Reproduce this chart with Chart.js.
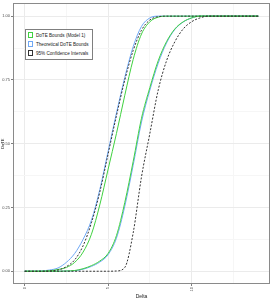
<!DOCTYPE html>
<html><head><meta charset="utf-8">
<script src="https://cdn.jsdelivr.net/npm/chart.js@4/dist/chart.umd.min.js"></script>
<style>
html,body{margin:0;padding:0;background:#fff;}
#wrap{position:relative;width:273px;height:300px;}
#legend{position:absolute;left:25px;top:29px;width:66px;height:29px;border:1px solid #7f7f7f;background:#fff;font-family:"Liberation Sans",Arial,sans-serif;font-size:4.6px;color:#1a1a1a;}
.row{position:absolute;left:2px;height:9px;line-height:9px;white-space:nowrap;}
.key{position:absolute;left:0;top:1px;width:5px;height:6px;box-sizing:border-box;}
.lbl{position:absolute;left:8px;top:0;}
</style></head>
<body>
<div id="wrap">
<canvas id="c" width="273" height="300"></canvas>
<div id="legend">
 <div class="row" style="top:0.5px"><span class="key" style="border:1px solid #3fd13f"></span><span class="lbl">DoTE Bounds (Model 1)</span></div>
 <div class="row" style="top:9.5px"><span class="key" style="border:1px solid #6fa8f5"></span><span class="lbl">Theoretical DoTE Bounds</span></div>
 <div class="row" style="top:18.5px"><span class="key" style="border:1px dashed #333"></span><span class="lbl">95% Confidence Intervals</span></div>
</div>
</div>
<script>
const xValues = [0,0.5,1,1.5,2,2.5,3,3.5,4,4.5,5,5.5,6,6.5,7,7.5,8,8.5,9,9.5,10,10.5,11,11.5,12,12.5,13,13.5,14];
const modelUpper = [0,0,0,0.002,0.007,0.015,0.035,0.075,0.145,0.26,0.4,0.54,0.69,0.83,0.93,0.978,0.996,1,1,1,1,1,1,1,1,1,1,1,1];
const modelLower = [0,0,0,0,0,0.001,0.003,0.01,0.022,0.04,0.07,0.14,0.27,0.43,0.6,0.72,0.825,0.9,0.95,0.978,0.993,1,1,1,1,1,1,1,1];
const theoryUpper = [0,0,0.001,0.005,0.013,0.035,0.07,0.125,0.2,0.32,0.47,0.62,0.76,0.88,0.96,0.993,1,1,1,1,1,1,1,1,1,1,1,1,1];
const theoryLower = [0,0,0,0,0,0.001,0.002,0.008,0.019,0.036,0.065,0.13,0.255,0.415,0.585,0.71,0.815,0.895,0.948,0.977,0.993,1,1,1,1,1,1,1,1];
const ciUpper = [0,0,0,0.001,0.005,0.018,0.045,0.1,0.19,0.31,0.46,0.61,0.75,0.865,0.945,0.985,0.998,1,1,1,1,1,1,1,1,1,1,1,1];
const ciLower = [0,0,0,0,0,0,0,0,0,0,0,0.001,0.015,0.15,0.37,0.54,0.71,0.825,0.9,0.95,0.978,0.993,1,1,1,1,1,1,1];
const xTicks = [0,2.5,5,7.5,10,12.5];
const yTicks = [0,0.125,0.25,0.375,0.5,0.625,0.75,0.875,1];
const xLabels = {0:"0",5:"5",10:"10"};
const yLabels = {0:"0.00",0.25:"0.25",0.5:"0.50",0.75:"0.75",1:"1.00"};

const GREEN = '#3fd13f', BLUE = '#6fa8f5', DASH = '#333333';
const pts = arr => arr.map((v,i)=>({x:xValues[i], y:v}));
function ds(data, color, dashed, order){
  return {data: pts(data), borderColor: color, borderWidth: 1, pointRadius: 0,
    borderDash: dashed ? [2,1.6] : [], cubicInterpolationMode: 'monotone', fill:false, order: order};
}
const borderPlugin = {
  id:'panelBorder',
  afterDraw(chart){
    const a = chart.chartArea, ctx = chart.ctx;
    ctx.save(); ctx.strokeStyle='#8a8a8a'; ctx.lineWidth=1;
    ctx.strokeRect(Math.round(a.left)+0.5, Math.round(a.top)+0.5, Math.round(a.right-a.left)-1, Math.round(a.bottom-a.top)-1);
    ctx.restore();
  }
};
const gridColor = (labels) => (c) => (c.tick && labels[c.tick.value] !== undefined) ? '#ebebeb' : '#f6f6f6';
new Chart(document.getElementById('c'), {
  type:'line',
  data:{datasets:[
    ds(ciUpper, DASH, true, 1), ds(ciLower, DASH, true, 1),
    ds(modelUpper, GREEN, false, 2), ds(modelLower, GREEN, false, 2),
    ds(theoryUpper, BLUE, false, 3), ds(theoryLower, BLUE, false, 3)
  ]},
  options:{
    responsive:false, animation:false, devicePixelRatio:1,
    layout:{padding:{top:2,right:3,left:0,bottom:0}},
    plugins:{legend:{display:false}, tooltip:{enabled:false}},
    scales:{
      x:{type:'linear', min:-0.7, max:14.7,
        afterBuildTicks(s){ s.ticks = xTicks.map(v=>({value:v})); },
        afterFit(s){ s.height = 16; },
        grid:{color:gridColor(xLabels), tickLength:2, tickColor:(c)=> (c.tick && xLabels[c.tick.value]!==undefined)?'#7f7f7f':'rgba(0,0,0,0)'},
        border:{display:false},
        ticks:{autoSkip:false, maxRotation:90, minRotation:90, padding:1, color:'#4d4d4d',
          font:{family:'Liberation Sans', size:4}, callback:(v)=> xLabels[v] !== undefined ? xLabels[v] : ''},
        title:{display:true, text:'Delta', color:'#1a1a1a', font:{family:'Liberation Sans', size:5}, padding:{top:0,bottom:0}}
      },
      y:{type:'linear', min:-0.05, max:1.05,
        afterBuildTicks(s){ s.ticks = yTicks.map(v=>({value:v})); },
        afterFit(s){ s.width = 13; },
        grid:{color:gridColor(yLabels), tickLength:2, tickColor:(c)=> (c.tick && yLabels[c.tick.value]!==undefined)?'#7f7f7f':'rgba(0,0,0,0)'},
        border:{display:false},
        ticks:{autoSkip:false, padding:1, color:'#4d4d4d',
          font:{family:'Liberation Sans', size:4}, callback:(v)=> yLabels[v] !== undefined ? yLabels[v] : ''},
        title:{display:true, text:'DoTE', color:'#1a1a1a', font:{family:'Liberation Sans', size:4}, padding:{top:0,bottom:0}}
      }
    }
  },
  plugins:[borderPlugin]
});
</script>
</body></html>
